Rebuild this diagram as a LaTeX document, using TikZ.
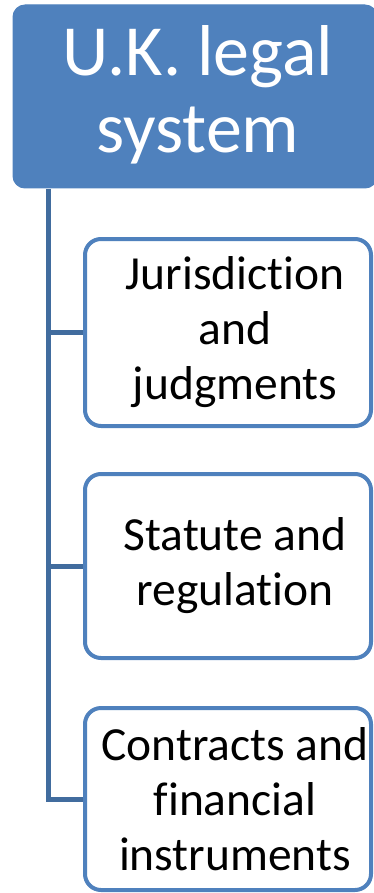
\documentclass[tikz,border=0pt]{standalone}
\usepackage{fontspec}
\setmainfont{Carlito}[Ligatures={NoCommon,NoContextual}]
\definecolor{accent}{RGB}{79,129,189}
\definecolor{connc}{RGB}{65,108,158}
\tikzset{
  rootbox/.style={draw=accent, line width=1pt, fill=accent, rounded corners=12pt, inner sep=0pt},
  childbox/.style={draw=accent, line width=4pt, fill=white, rounded corners=16pt, inner sep=0pt},
  roottext/.style={text=white, align=center, font=\fontsize{72}{77}\selectfont},
  childtext/.style={text=black, align=center, font=\fontsize{47.5}{55}\selectfont},
  conn/.style={draw=connc, line width=5pt}
}
\begin{document}
\begin{tikzpicture}[x=1pt,y=1pt]
\useasboundingbox (0,0) rectangle (374,-893);
\node[rootbox, minimum width=364pt, minimum height=183pt] (root) at (195,-96.5) {};
\node[roottext] (roott) at (198,-95) {U.K. legal\\system};
\node[childbox, minimum width=286pt, minimum height=187pt] (b1) at (228,-332.5) {};
\node[childbox, minimum width=286pt, minimum height=184pt] (b2) at (228,-566) {};
\node[childbox, minimum width=286pt, minimum height=182pt] (b3) at (228,-799) {};
\node[childtext] (t1) at (235,-332.5) {Jurisdiction\\and\\judgments};
\node[childtext] (t2) at (235,-566) {Statute and\\regulation};
\node[childtext] (t3) at (235,-799) {Contracts and\\financial\\instruments};
\coordinate (v) at (48,-189);
\draw[conn] (v) |- (b3.west);
\draw[conn] (v |- b1.west) -- (b1.west);
\draw[conn] (v |- b2.west) -- (b2.west);
\end{tikzpicture}
\end{document}
